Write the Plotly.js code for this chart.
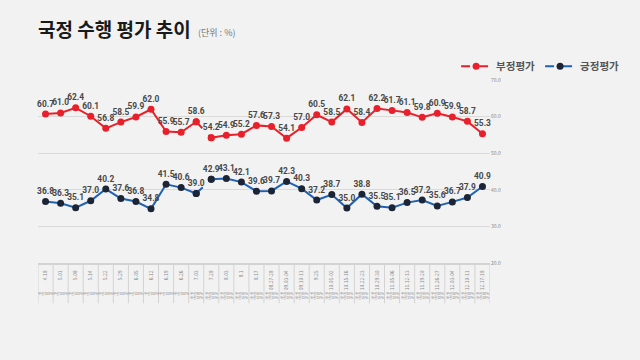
<!DOCTYPE html>
<html><head><meta charset="utf-8">
<script src="https://cdn.plot.ly/plotly-3.0.1.min.js"></script>
<style>html,body{margin:0;padding:0;background:#f2f2f2;}#chart{width:640px;height:360px;}</style>
</head><body><div id="chart"></div>
<script>
const dates = ["4.18","5.01","5.08","5.14","5.22","5.29","6.05","6.12","6.19","6.26","7.03","7.28","8.03","8.1","8.17","08.27-28","09.03-04","09.10-11","9.25","10.01-02","10.15-16","10.22-23","10.29-30","11.05-06","11.12-13","11.19-20","11.26-27","12.03-04","12.10-11","12.17-18"];
const methods = ["무선100%","무선100%","무선100%","무선100%","무선100%","무선100%","무선100%","무선100%","무선100%","무선100%","무선90%<br>유선10%","무선85%<br>유선15%","무선85%<br>유선15%","무선85%<br>유선15%","무선85%<br>유선15%","무선85%<br>유선15%","무선85%<br>유선15%","무선85%<br>유선15%","무선85%<br>유선15%","무선85%<br>유선15%","무선85%<br>유선15%","무선85%<br>유선15%","무선85%<br>유선15%","무선85%<br>유선15%","무선85%<br>유선15%","무선85%<br>유선15%","무선80%<br>유선20%","무선80%<br>유선20%","무선80%<br>유선20%","무선80%<br>유선20%"];
const negative = [60.7,61.0,62.4,60.1,56.8,58.5,59.9,62.0,55.9,55.7,58.6,54.2,54.9,55.2,57.6,57.3,54.1,57.0,60.5,58.5,62.1,58.4,62.2,61.7,61.1,59.8,60.9,59.9,58.7,55.3];
const positive = [36.8,36.3,35.1,37.0,40.2,37.6,36.8,34.8,41.5,40.6,39.0,42.9,43.1,42.1,39.6,39.7,42.3,40.3,37.2,38.7,35.0,38.8,35.5,35.1,36.5,37.2,35.6,36.7,37.9,40.9];
const seriesNames = ["부정평가","긍정평가"];
const breakAt = 10; // dashed segment between index 10 and 11

const idx = dates.map((d,i)=>i);
const RED = "#e8202b", BLUE = "#1f62b5", NAVY = "#1b2535";
const KR = "Noto Sans CJK KR, sans-serif";
const labelFont = {family:"Roboto, sans-serif", size:8.4, color:"#484848", weight:"bold"};

function seg(vals, a, b, color, mcolor, dash, name, legend, showText){
  return {
    x: idx.slice(a,b), y: vals.slice(a,b), type:"scatter",
    mode: showText ? "lines+markers+text" : "lines+markers",
    text: showText ? vals.slice(a,b).map(v=>v.toFixed(1)) : undefined,
    textposition:"top center", textfont: labelFont,
    line:{color:color, width:2, dash:dash},
    marker:{color:mcolor, size:7},
    name:name, showlegend:legend, hoverinfo:"skip", cliponaxis:false
  };
}

const traces = [
  seg(negative,breakAt,breakAt+2,RED,RED,"dash",seriesNames[0],true,false),
  seg(negative,0,breakAt+1,RED,RED,"solid",seriesNames[0],false,true),
  seg(negative,breakAt+1,dates.length,RED,RED,"solid",seriesNames[0],false,true),
  seg(positive,breakAt,breakAt+2,BLUE,NAVY,"dash",seriesNames[1],true,false),
  seg(positive,0,breakAt+1,BLUE,NAVY,"solid",seriesNames[1],false,true),
  seg(positive,breakAt+1,dates.length,BLUE,NAVY,"solid",seriesNames[1],false,true)
];

const annotations = [
  {xref:"paper", yref:"paper", x:0.35, y:1.257, xanchor:"left", yanchor:"middle", showarrow:false,
   text:"(단위 : %)", font:{family:KR, size:9, color:"#777"}}
];
methods.forEach((m,i)=>{
  annotations.push({xref:"x", yref:"paper", x:i, y:-0.145, yanchor:"top", xanchor:"center", showarrow:false,
    borderpad:0, text:m, font:{family:KR, size:3.4, color:"#8a8a8a"}});
});

const layout = {
  width:640, height:360,
  paper_bgcolor:"#f2f2f2", plot_bgcolor:"#f2f2f2",
  margin:{l:38, r:150, t:80, b:97},
  title:{text:"<b>국정 수행 평가 추이</b>", x:0, xref:"paper", xanchor:"left", y:0.915, yanchor:"middle",
         font:{family:KR, size:19, color:"#1a1a1a"}},
  showlegend:true,
  legend:{orientation:"h", x:0.925, xanchor:"left", y:1.075, yanchor:"middle", bgcolor:"rgba(0,0,0,0)",
          font:{family:KR, size:10.5, color:"#555", weight:"bold"}, itemwidth:30, tracegroupgap:0},
  xaxis:{type:"linear", range:[-0.5, dates.length-0.5], tickmode:"array", tickvals:idx, ticktext:dates,
         tickangle:-90, tickfont:{family:KR, size:5, color:"#8a8a8a"},
         showgrid:false, zeroline:false, showline:true, linecolor:"#d3d3d3", linewidth:1.5,
         ticks:"", ticklabelstandoff:4, fixedrange:true},
  yaxis:{range:[20,70], dtick:10, side:"right", tickformat:".1f",
         tickfont:{family:KR, size:5, color:"#888"},
         showgrid:true, gridcolor:"#dadada", gridwidth:1, zeroline:false, showline:false, ticks:""},
  annotations:annotations,
  shapes: idx.concat([dates.length]).map(i=>({type:"line", xref:"x", yref:"paper", x0:i-0.5, x1:i-0.5, y0:0, y1:-0.22,
          line:{color:"#d3d3d3", width:1}}))
};

Plotly.newPlot("chart", traces, layout, {displayModeBar:false, staticPlot:true});
</script></body></html>
